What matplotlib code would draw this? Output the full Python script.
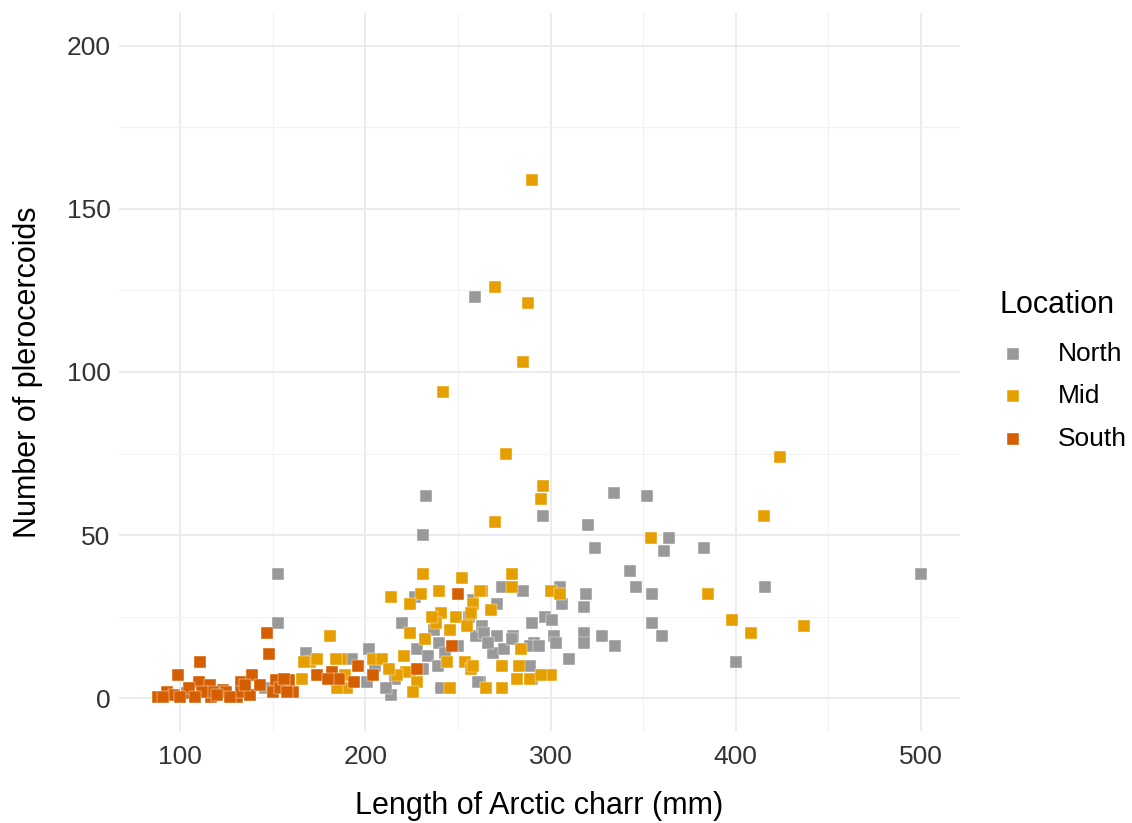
import matplotlib
matplotlib.use("Agg")
import matplotlib.pyplot as plt
from matplotlib.ticker import MultipleLocator

plt.rcParams['font.family'] = ['Liberation Sans', 'DejaVu Sans']

# fish length (mm) and parasite counts
north_len = [500, 259, 233, 231, 296, 334, 352, 320, 324, 364, 361, 343, 346, 355, 383,
             416, 355, 360, 400, 153, 153, 168, 146, 193, 202, 201, 216, 214, 220, 227,
             228, 234, 231, 239, 240, 241, 250, 258, 260, 263, 262, 271, 274, 285, 290,
             297, 301, 305, 306, 319, 318, 302, 303, 318, 318, 328, 335, 291, 280, 264,
             269, 275, 289, 294, 310, 289, 290, 271, 279, 266, 256, 243, 237, 224, 211,
             205, 261]
north_n = [38, 123, 62, 50, 56, 63, 62, 53, 46, 49, 45, 39, 34, 32, 46,
           34, 23, 19, 11, 38, 23, 14, 3, 12, 15, 5, 6, 1, 23, 31,
           15, 13, 9, 10, 17, 3, 16, 30, 19, 22, 5, 29, 34, 33, 23,
           25, 24, 34, 29, 32, 28, 19, 17, 20, 17, 19, 16, 17, 19, 20,
           14, 15, 16, 16, 12, 10, 6, 19, 18, 17, 25, 14, 21, 8, 3,
           10, 5]

mid_len = [290, 270, 288, 285, 242, 276, 296, 295, 270, 354, 424, 415, 385, 398, 408,
           437, 279, 279, 263, 300, 305, 231, 252, 214, 240, 230, 224, 262, 258, 241,
           249, 238, 224, 246, 255, 232, 204, 209, 187, 221, 222, 217, 228, 244, 254,
           257, 246, 265, 190, 181, 170, 174, 184, 166, 167, 185, 189, 257, 284, 274,
           283, 289, 282, 274, 258, 226, 236, 213, 268, 300, 295]
mid_n = [159, 126, 121, 103, 94, 75, 65, 61, 54, 49, 74, 56, 32, 24, 20,
         22, 38, 34, 33, 33, 32, 38, 37, 31, 33, 32, 29, 33, 29, 26,
         25, 23, 20, 21, 22, 18, 12, 12, 12, 13, 8, 7, 5, 11, 11,
         9, 3, 3, 3, 19, 11, 12, 12, 6, 11, 3, 7, 26, 15, 10,
         10, 6, 6, 3, 10, 2, 25, 9, 27, 7, 7]

south_len = [88, 93, 99, 104, 111, 110, 116, 117, 123, 131, 133, 139, 147, 148, 152,
             150, 161, 159, 174, 182, 186, 125, 118, 112, 133, 154, 97, 105, 91, 127,
             250, 247, 228, 204, 194, 196, 100, 108, 120, 138, 135, 143, 158, 156, 180]
south_n = [0.5, 2, 7, 1.5, 11, 5, 4, 0.3, 2.5, 0.3, 5, 7, 20, 13.5, 5.5,
           2, 2, 5.5, 7, 8, 6, 2, 2, 2, 2, 3, 1, 3, 0.5, 0.5,
           32, 16, 9, 7, 5, 10, 0.5, 0.5, 1, 1, 4, 4, 2, 6, 6]

locations = ["North", "Mid", "South"]
colors = ["#999999", "#E69F00", "#D55E00"]

fig = plt.figure(figsize=(11.32, 8.23), dpi=100)
ax = fig.add_axes([0.105, 0.112, 0.743, 0.872])

series = [(north_len, north_n), (mid_len, mid_n), (south_len, south_n)]
for (xs, ys), lab, col in zip(series, locations, colors):
    ax.scatter(xs, ys, s=85, marker='s', color=col, edgecolors='white',
               linewidths=0.3, label=lab, zorder=3)

ax.set_xlim(67, 521)
ax.set_ylim(-10, 210)
ax.xaxis.set_major_locator(MultipleLocator(100))
ax.xaxis.set_minor_locator(MultipleLocator(50))
ax.yaxis.set_major_locator(MultipleLocator(50))
ax.yaxis.set_minor_locator(MultipleLocator(25))
ax.grid(which='major', color='#ebebeb', linewidth=1.3, zorder=0)
ax.grid(which='minor', color='#f2f2f2', linewidth=0.8, zorder=0)
ax.set_axisbelow(True)
for sp in ax.spines.values():
    sp.set_visible(False)
ax.tick_params(which='both', length=0, labelsize=19, labelcolor='#333333')
ax.tick_params(axis='x', pad=10)
ax.tick_params(axis='y', pad=6)

ax.set_xlabel("Length of Arctic charr (mm)", fontsize=22, labelpad=16)
ax.set_ylabel("Number of plerocercoids", fontsize=22, labelpad=17)

leg = fig.legend(title="Location", loc='upper left', bbox_to_anchor=(0.883, 0.648),
                 frameon=False, fontsize=19, title_fontsize=22, markerscale=1.0,
                 borderpad=0, borderaxespad=0, handlelength=1.0, handletextpad=1.2,
                 labelspacing=0.7, alignment='left')
leg._legend_box.sep = 16

fig.savefig("out.png", dpi=100)
